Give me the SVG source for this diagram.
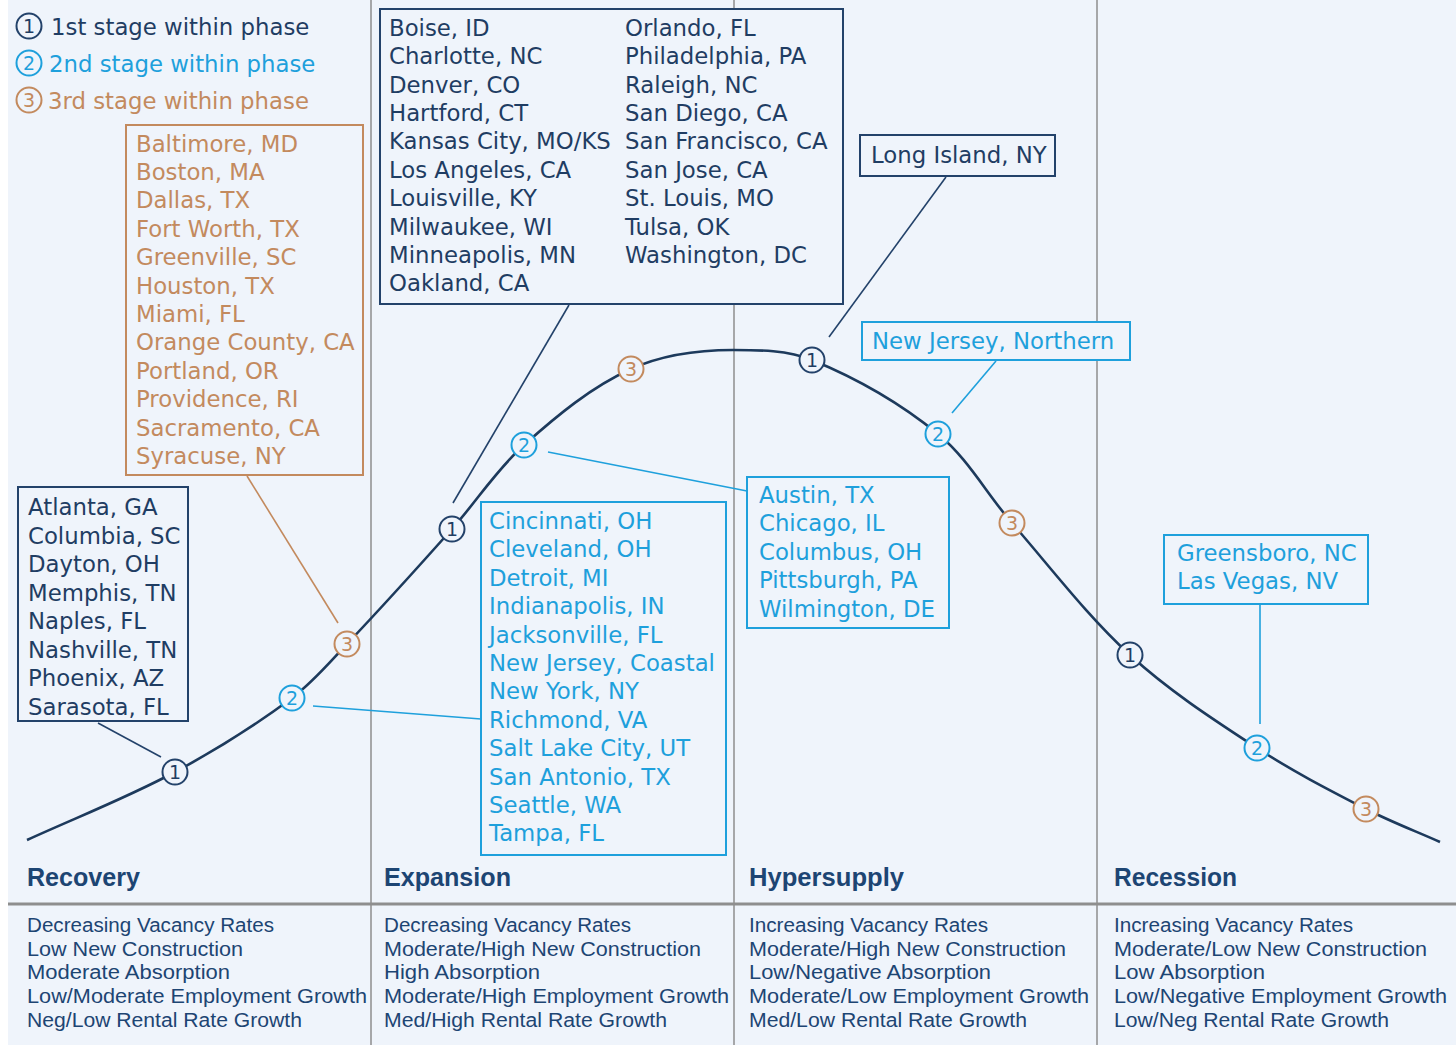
<svg xmlns="http://www.w3.org/2000/svg" width="1456" height="1045" viewBox="0 0 1456 1045">
<style>
.bg{fill:#eff4fb}
.div{stroke:#8e8e8e;stroke-width:1.5;fill:none}
.curve{stroke:#1d3a5c;stroke-width:2.6;fill:none}
.box{fill:#eff4fb;stroke-width:2}
.nv{stroke:#23426a}
.cy{stroke:#1ea0dc}
.br{stroke:#c38a5e}
.ld{stroke-width:1.6;fill:none}
.city{font-family:"DejaVu Sans",Verdana,sans-serif;font-size:22.8px}
.tnv{fill:#1f3d63}
.tcy{fill:#1ea0dc}
.tbr{fill:#c38a5e}
.mk{fill:#eff4fb;stroke-width:2}
.mt{font-family:"DejaVu Sans",sans-serif;font-size:19px;text-anchor:middle}
.ph{font-family:"Liberation Sans",Arial,sans-serif;font-size:25px;font-weight:bold;fill:#1d4573}
.ds{font-family:"Liberation Sans",Arial,sans-serif;font-size:19.5px;fill:#1d4573}
</style>
<rect x="0" y="0" width="1456" height="1045" fill="#ffffff"/>
<rect class="bg" x="8" y="0" width="1448" height="1045"/>
<g id="dividers">
<line class="div" x1="371" y1="0" x2="371" y2="1045"/>
<line class="div" x1="734" y1="0" x2="734" y2="1045"/>
<line class="div" x1="1097" y1="0" x2="1097" y2="1045"/>
<line x1="8" y1="904" x2="1456" y2="904" stroke="#8e8e8e" stroke-width="3"/>
</g>
<g id="connectors">
<path class="curve" d="M27,840 C76.4,817.4 127.2,797.7 175,772 C215.6,750.2 255,725.5 292,698 C312.6,682.7 329.3,662.7 347,644 C382.7,606.3 417.5,567.8 452,529 C476.5,501.4 496.5,469.6 524,445 C556.6,415.9 591.2,387 631,369 C662.5,354.7 698.4,350 733,350 C759.5,350 787.5,350 812,360 C857.1,378.5 900.3,403.2 938,434 C967.9,458.4 986.7,493.9 1012,523 C1050.7,567.5 1086.6,615.1 1130,655 C1168.6,690.5 1213.1,719.3 1257,748 C1291.8,770.8 1329,789.9 1366,809 C1390,821.4 1415.3,831 1440,842"/>
<line class="ld nv" x1="569" y1="305" x2="453" y2="503"/>
<line class="ld br" x1="247" y1="476" x2="338" y2="623"/>
<line class="ld nv" x1="98" y1="723" x2="161" y2="757"/>
<line class="ld cy" x1="313" y1="706" x2="481" y2="719"/>
<line class="ld cy" x1="548" y1="452" x2="747" y2="491"/>
<line class="ld nv" x1="946" y1="177" x2="829" y2="337"/>
<line class="ld cy" x1="996" y1="361" x2="952" y2="413"/>
<line class="ld cy" x1="1260" y1="605" x2="1260" y2="724"/>
</g>
<g id="box-top">
<rect class="box nv" x="380" y="9" width="463" height="295"/>
<text class="city tnv">
<tspan x="389" y="35.7">Boise, ID</tspan>
<tspan x="389" y="64.1">Charlotte, NC</tspan>
<tspan x="389" y="92.5">Denver, CO</tspan>
<tspan x="389" y="120.9">Hartford, CT</tspan>
<tspan x="389" y="149.3">Kansas City, MO/KS</tspan>
<tspan x="389" y="177.7">Los Angeles, CA</tspan>
<tspan x="389" y="206.1">Louisville, KY</tspan>
<tspan x="389" y="234.5">Milwaukee, WI</tspan>
<tspan x="389" y="262.9">Minneapolis, MN</tspan>
<tspan x="389" y="291.3">Oakland, CA</tspan>
</text>
<text class="city tnv">
<tspan x="625" y="35.7">Orlando, FL</tspan>
<tspan x="625" y="64.1">Philadelphia, PA</tspan>
<tspan x="625" y="92.5">Raleigh, NC</tspan>
<tspan x="625" y="120.9">San Diego, CA</tspan>
<tspan x="625" y="149.3">San Francisco, CA</tspan>
<tspan x="625" y="177.7">San Jose, CA</tspan>
<tspan x="625" y="206.1">St. Louis, MO</tspan>
<tspan x="625" y="234.5">Tulsa, OK</tspan>
<tspan x="625" y="262.9">Washington, DC</tspan>
</text>
</g>
<g id="box-brown">
<rect class="box br" x="126" y="125" width="237" height="350"/>
<text class="city tbr">
<tspan x="136" y="151.5">Baltimore, MD</tspan>
<tspan x="136" y="179.9">Boston, MA</tspan>
<tspan x="136" y="208.3">Dallas, TX</tspan>
<tspan x="136" y="236.7">Fort Worth, TX</tspan>
<tspan x="136" y="265.1">Greenville, SC</tspan>
<tspan x="136" y="293.5">Houston, TX</tspan>
<tspan x="136" y="321.9">Miami, FL</tspan>
<tspan x="136" y="350.3">Orange County, CA</tspan>
<tspan x="136" y="378.7">Portland, OR</tspan>
<tspan x="136" y="407.1">Providence, RI</tspan>
<tspan x="136" y="435.5">Sacramento, CA</tspan>
<tspan x="136" y="463.9">Syracuse, NY</tspan>
</text>
</g>
<g id="box-recovery1">
<rect class="box nv" x="18" y="487" width="170" height="234"/>
<text class="city tnv">
<tspan x="28" y="515">Atlanta, GA</tspan>
<tspan x="28" y="543.5">Columbia, SC</tspan>
<tspan x="28" y="572">Dayton, OH</tspan>
<tspan x="28" y="600.5">Memphis, TN</tspan>
<tspan x="28" y="629">Naples, FL</tspan>
<tspan x="28" y="657.5">Nashville, TN</tspan>
<tspan x="28" y="686">Phoenix, AZ</tspan>
<tspan x="28" y="714.5">Sarasota, FL</tspan>
</text>
</g>
<g id="box-expansion2">
<rect class="box cy" x="481" y="502" width="245" height="353"/>
<text class="city tcy">
<tspan x="489" y="529">Cincinnati, OH</tspan>
<tspan x="489" y="557.4">Cleveland, OH</tspan>
<tspan x="489" y="585.8">Detroit, MI</tspan>
<tspan x="489" y="614.2">Indianapolis, IN</tspan>
<tspan x="489" y="642.6">Jacksonville, FL</tspan>
<tspan x="489" y="671">New Jersey, Coastal</tspan>
<tspan x="489" y="699.4">New York, NY</tspan>
<tspan x="489" y="727.8">Richmond, VA</tspan>
<tspan x="489" y="756.2">Salt Lake City, UT</tspan>
<tspan x="489" y="784.6">San Antonio, TX</tspan>
<tspan x="489" y="813">Seattle, WA</tspan>
<tspan x="489" y="841.4">Tampa, FL</tspan>
</text>
</g>
<g id="box-expansion2b">
<rect class="box cy" x="747" y="477" width="202" height="151"/>
<text class="city tcy">
<tspan x="759" y="503">Austin, TX</tspan>
<tspan x="759" y="531.4">Chicago, IL</tspan>
<tspan x="759" y="559.8">Columbus, OH</tspan>
<tspan x="759" y="588.2">Pittsburgh, PA</tspan>
<tspan x="759" y="616.6">Wilmington, DE</tspan>
</text>
</g>
<g id="box-hyper1">
<rect class="box nv" x="860" y="135" width="195" height="41"/>
<text class="city tnv" x="871" y="163">Long Island, NY</text>
</g>
<g id="box-hyper2">
<rect class="box cy" x="862" y="322" width="268" height="38"/>
<text class="city tcy" x="872" y="349">New Jersey, Northern</text>
</g>
<g id="box-recession2">
<rect class="box cy" x="1164" y="535" width="204" height="69"/>
<text class="city tcy">
<tspan x="1177" y="561">Greensboro, NC</tspan>
<tspan x="1177" y="589">Las Vegas, NV</tspan>
</text>
</g>
<g id="markers">
<g class="mk nv">
<circle cx="175" cy="772" r="12.5"/>
<circle cx="452" cy="529" r="12.5"/>
<circle cx="812" cy="360" r="12.5"/>
<circle cx="1130" cy="655" r="12.5"/>
<circle cx="29" cy="26" r="12.5"/>
</g>
<g class="mk cy">
<circle cx="292" cy="698" r="12.5"/>
<circle cx="524" cy="445" r="12.5"/>
<circle cx="938" cy="434" r="12.5"/>
<circle cx="1257" cy="748" r="12.5"/>
<circle cx="29" cy="63" r="12.5"/>
</g>
<g class="mk br">
<circle cx="347" cy="644" r="12.5"/>
<circle cx="631" cy="369" r="12.5"/>
<circle cx="1012" cy="523" r="12.5"/>
<circle cx="1366" cy="809" r="12.5"/>
<circle cx="29" cy="100" r="12.5"/>
</g>
<g class="mt tnv">
<text x="175" y="779">1</text>
<text x="452" y="536">1</text>
<text x="812" y="367">1</text>
<text x="1130" y="662">1</text>
<text x="29" y="33">1</text>
</g>
<g class="mt tcy">
<text x="292" y="705">2</text>
<text x="524" y="452">2</text>
<text x="938" y="441">2</text>
<text x="1257" y="755">2</text>
<text x="29" y="70">2</text>
</g>
<g class="mt tbr">
<text x="347" y="651">3</text>
<text x="631" y="376">3</text>
<text x="1012" y="530">3</text>
<text x="1366" y="816">3</text>
<text x="29" y="107">3</text>
</g>
</g>
<g id="legend">
<text class="city tnv" x="51" y="34.5">1st stage within phase</text>
<text class="city tcy" x="49" y="71.5">2nd stage within phase</text>
<text class="city tbr" x="48" y="109">3rd stage within phase</text>
</g>
<g id="phases">
<text class="ph" x="27" y="886" textLength="113" lengthAdjust="spacingAndGlyphs">Recovery</text>
<text class="ph" x="384" y="886" textLength="127" lengthAdjust="spacingAndGlyphs">Expansion</text>
<text class="ph" x="749" y="886" textLength="155" lengthAdjust="spacingAndGlyphs">Hypersupply</text>
<text class="ph" x="1114" y="886" textLength="123" lengthAdjust="spacingAndGlyphs">Recession</text>
</g>
<g id="descriptions">
<text class="ds" x="27" y="932" textLength="247" lengthAdjust="spacingAndGlyphs">Decreasing Vacancy Rates</text>
<text class="ds" x="27" y="955.5" textLength="216" lengthAdjust="spacingAndGlyphs">Low New Construction</text>
<text class="ds" x="27" y="979" textLength="203" lengthAdjust="spacingAndGlyphs">Moderate Absorption</text>
<text class="ds" x="27" y="1003" textLength="340" lengthAdjust="spacingAndGlyphs">Low/Moderate Employment Growth</text>
<text class="ds" x="27" y="1026.5" textLength="275" lengthAdjust="spacingAndGlyphs">Neg/Low Rental Rate Growth</text>
<text class="ds" x="384" y="932" textLength="247" lengthAdjust="spacingAndGlyphs">Decreasing Vacancy Rates</text>
<text class="ds" x="384" y="955.5" textLength="317" lengthAdjust="spacingAndGlyphs">Moderate/High New Construction</text>
<text class="ds" x="384" y="979" textLength="156" lengthAdjust="spacingAndGlyphs">High Absorption</text>
<text class="ds" x="384" y="1003" textLength="345" lengthAdjust="spacingAndGlyphs">Moderate/High Employment Growth</text>
<text class="ds" x="384" y="1026.5" textLength="283" lengthAdjust="spacingAndGlyphs">Med/High Rental Rate Growth</text>
<text class="ds" x="749" y="932" textLength="239" lengthAdjust="spacingAndGlyphs">Increasing Vacancy Rates</text>
<text class="ds" x="749" y="955.5" textLength="317" lengthAdjust="spacingAndGlyphs">Moderate/High New Construction</text>
<text class="ds" x="749" y="979" textLength="242" lengthAdjust="spacingAndGlyphs">Low/Negative Absorption</text>
<text class="ds" x="749" y="1003" textLength="340" lengthAdjust="spacingAndGlyphs">Moderate/Low Employment Growth</text>
<text class="ds" x="749" y="1026.5" textLength="278" lengthAdjust="spacingAndGlyphs">Med/Low Rental Rate Growth</text>
<text class="ds" x="1114" y="932" textLength="239" lengthAdjust="spacingAndGlyphs">Increasing Vacancy Rates</text>
<text class="ds" x="1114" y="955.5" textLength="313" lengthAdjust="spacingAndGlyphs">Moderate/Low New Construction</text>
<text class="ds" x="1114" y="979" textLength="151" lengthAdjust="spacingAndGlyphs">Low Absorption</text>
<text class="ds" x="1114" y="1003" textLength="333" lengthAdjust="spacingAndGlyphs">Low/Negative Employment Growth</text>
<text class="ds" x="1114" y="1026.5" textLength="275" lengthAdjust="spacingAndGlyphs">Low/Neg Rental Rate Growth</text>
</g>
</svg>
